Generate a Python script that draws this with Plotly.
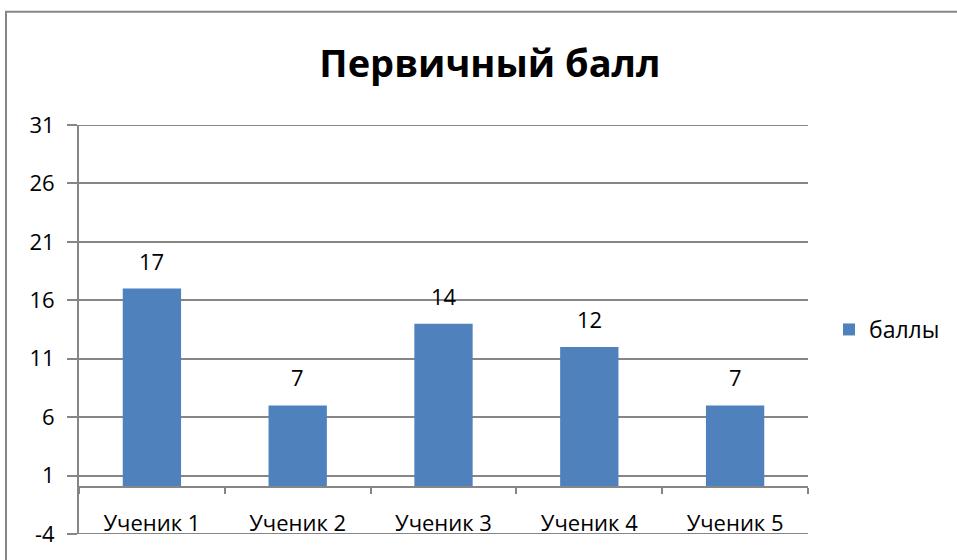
import plotly.graph_objects as go

categories = ["Ученик 1", "Ученик 2", "Ученик 3", "Ученик 4", "Ученик 5"]
values = [17, 7, 14, 12, 7]
series_name = "баллы"
title_text = "Первичный балл"
y_tick_values = [-4, 1, 6, 11, 16, 21, 26, 31]
y_tick_labels = ["-4", "1", "6", "11", "16", "21", "26", "31"]

FONT = "Open Sans, Liberation Sans, sans-serif"
GRID = "#868686"
BAR = "#4f81bd"
FS = 22

fig = go.Figure()
fig.add_trace(go.Bar(
    x=categories, y=values, name=series_name,
    marker=dict(color=BAR, line=dict(width=0)),
    width=0.4, showlegend=True,
))

for c, v in zip(categories, values):
    fig.add_annotation(x=c, y=v, text=str(v), showarrow=False,
                       yanchor="bottom", yshift=11,
                       font=dict(family=FONT, size=FS, color="#000000"))

L, R, T, B = 79, 149, 125, 23
ph = 560 - T - B
zero_pos = 4 / 35

shapes = [dict(type="rect", xref="paper", yref="paper",
               x0=(6 - L) / 729, x1=2, y0=-1, y1=(537 - 11) / ph,
               line=dict(color=GRID, width=2), fillcolor="rgba(0,0,0,0)", layer="below")]
for yv in (y_tick_values[0], y_tick_values[-1]):
    shapes.append(dict(type="line", xref="paper", yref="y", x0=0, x1=1, y0=yv, y1=yv,
                       line=dict(color=GRID, width=2), layer="below"))

fig.update_layout(
    width=957, height=560,
    margin=dict(l=L, r=R, t=T, b=B, pad=0),
    paper_bgcolor="white", plot_bgcolor="white",
    title=dict(text=title_text, x=0.512, xanchor="center", y=1 - 64 / 560, yanchor="middle",
               font=dict(family=FONT, size=38, color="#000000", weight="bold")),
    font=dict(family=FONT, size=FS, color="#000000"),
    bargap=0.6,
    legend=dict(x=(829 - L) / 729, y=0.5, xanchor="left", yanchor="middle",
                font=dict(family=FONT, size=23, color="#000000"),
                bgcolor="rgba(0,0,0,0)", itemwidth=30),
    xaxis=dict(
        type="category", anchor="free", position=zero_pos,
        showline=True, linecolor=GRID, linewidth=2,
        ticks="outside", tickson="boundaries", ticklen=6, tickcolor=GRID, tickwidth=2,
        showgrid=False, tickfont=dict(family=FONT, size=FS, color="#000000"),
        ticklabelstandoff=16,
    ),
    yaxis=dict(
        range=[-4, 31], tickmode="array", tickvals=y_tick_values, ticktext=y_tick_labels,
        showline=True, linecolor=GRID, linewidth=2,
        showgrid=True, gridcolor=GRID, gridwidth=2,
        ticks="outside", ticklen=10, tickcolor=GRID, tickwidth=2,
        zeroline=False, tickfont=dict(family=FONT, size=FS, color="#000000"),
        ticklabelstandoff=8,
    ),
    shapes=shapes,
)

fig.write_html("out.html", config={"displayModeBar": False},
               post_script="document.body.style.margin='0';")
